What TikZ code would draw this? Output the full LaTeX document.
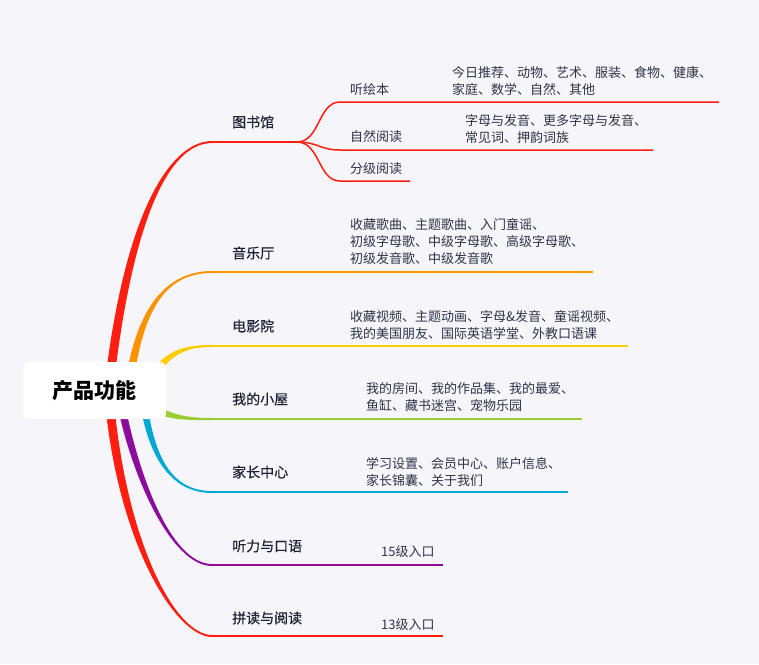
\documentclass[tikz,border=0pt]{standalone}
\usepackage{fontspec}
\setmainfont{Noto Sans CJK SC}
\newfontfamily\topicfont[FakeBold=0.4]{Noto Sans CJK SC}
\usetikzlibrary{backgrounds}

\definecolor{paper}{RGB}{245,245,250}
\definecolor{ink}{RGB}{28,34,50}
\definecolor{inkl}{RGB}{45,52,68}
\definecolor{redb}{RGB}{255,30,16}
\definecolor{orangeb}{RGB}{255,146,0}
\definecolor{yellowb}{RGB}{255,204,0}
\definecolor{greenb}{RGB}{154,204,51}
\definecolor{cyanb}{RGB}{0,168,214}
\definecolor{purpleb}{RGB}{140,12,158}

% tapered branch: colour, from, to, control 1, control 2, half width (x,y)
\newcommand\limb[7]{%
  \fill[#1] ([shift={(#6,#7)}]#2) .. controls ([shift={(#6,#7)}]#4) and ([yshift=-1pt]#5) .. ([yshift=-1pt]#3)
    -- ([yshift=1pt]#3) .. controls ([yshift=1pt]#5) and ([shift={({-(#6)},{-(#7)})}]#4) .. ([shift={({-(#6)},{-(#7)})}]#2) -- cycle;}

\tikzset{
  rootbox/.style={fill=white,rounded corners=6pt,minimum width=143pt,minimum height=57pt,inner sep=0pt,
    font=\fontsize{21}{24}\selectfont\bfseries,text=black},
  topic/.style={anchor=west,inner sep=0pt,text=ink,font=\fontsize{14}{17}\selectfont\topicfont},
  sub/.style={anchor=west,inner sep=0pt,text=inkl,font=\fontsize{13}{17}\selectfont},
  detail/.style={anchor=west,inner sep=0pt,text=inkl,align=left,font=\fontsize{13}{17}\selectfont},
  rule/.style={line width=2pt},
  twig/.style={line width=1.5pt,redb},
}

\begin{document}
\begin{tikzpicture}[x=1pt,y=-1pt]
  \useasboundingbox (0,0) rectangle (759,664);

  \node[rootbox] (root) at (94.5,390.5) {产品功能};

  % start and end of each branch
  \coordinate (s1) at ([xshift=14pt]root.center);  \coordinate (e1) at (212,142);
  \coordinate (s2) at ([xshift=34pt]root.center);  \coordinate (e2) at (212,272);
  \coordinate (s3) at ([shift={(56,-12)}]root.center); \coordinate (e3) at (212,346);
  \coordinate (s4) at ([shift={(56,15)}]root.center);  \coordinate (e4) at (212,419);
  \coordinate (s5) at ([shift={(48,5)}]root.center);   \coordinate (e5) at (212,492);
  \coordinate (s6) at ([xshift=24pt]root.center);  \coordinate (e6) at (212,565);
  \coordinate (s7) at ([xshift=14pt]root.center);  \coordinate (e7) at (212,636);

  % where the rules stop
  \coordinate (fork) at (297,142);
  \coordinate (r2) at (593,272);
  \coordinate (r3) at (628,346);
  \coordinate (r4) at (582,419);
  \coordinate (r5) at (568,492);
  \coordinate (r6) at (443,565);
  \coordinate (r7) at (443,636);
  \coordinate (t1) at (340,102); \coordinate (t1e) at (719,102);
  \coordinate (t2) at (340,150); \coordinate (t2e) at (653,150);
  \coordinate (t3) at (340,181); \coordinate (t3e) at (410,181);

  \begin{scope}[on background layer]
    \fill[paper] (0,0) rectangle (759,664);
    \limb{redb}{s1}{e1}{130,200}{175,142}{4.5}{0}
    \limb{orangeb}{s2}{e2}{138,310}{165,272}{4}{0}
    \limb{yellowb}{s3}{e3}{168,352}{185,346}{2.5}{2.5}
    \limb{greenb}{s4}{e4}{168,418}{188,419}{-2}{3}
    \limb{cyanb}{s5}{e5}{150,455}{170,492}{-3.5}{0}
    \limb{purpleb}{s6}{e6}{132,470}{170,565}{-4}{0}
    \limb{redb}{s7}{e7}{120,540}{175,636}{-4.5}{0}
  \end{scope}

  \draw[rule,redb] (e1) -- (fork);
  \foreach \n/\c in {2/orangeb,3/yellowb,4/greenb,5/cyanb,6/purpleb,7/redb}
    \draw[rule,\c] (e\n) -- (r\n);

  \draw[twig] (fork) .. controls (320,142) and (318,102) .. (t1) -- (t1e);
  \draw[twig] (fork) .. controls (318,142) and (320,150) .. (t2) -- (t2e);
  \draw[twig] (fork) .. controls (320,142) and (318,181) .. (t3) -- (t3e);

  % topics
  \node[topic] (lib) at (232,122) {图书馆};
  \node[topic] (music) at (232,253) {音乐厅};
  \node[topic] (movie) at (232,326) {电影院};
  \node[topic] (house) at (232,399) {我的小屋};
  \node[topic] (parent) at (232,472) {家长中心};
  \node[topic] (listen) at (232,546) {听力与口语};
  \node[topic] (read) at (232,618) {拼读与阅读};

  \node[sub] (pic) at (350,90) {听绘本};
  \node[sub] (nat) at (350,137) {自然阅读};
  \node[sub] (grade) at (350,169) {分级阅读};

  % details
  \node[detail] (picd) at (452,81.5) {今日推荐、动物、艺术、服装、食物、健康、\\家庭、数学、自然、其他};
  \node[detail] (natd) at (465,129.5) {字母与发音、更多字母与发音、\\常见词、押韵词族};
  \node[detail] (musicd) at (350,242) {收藏歌曲、主题歌曲、入门童谣、\\初级字母歌、中级字母歌、高级字母歌、\\初级发音歌、中级发音歌};
  \node[detail] (movied) at (350,325) {收藏视频、主题动画、字母\&发音、童谣视频、\\我的美国朋友、国际英语学堂、外教口语课};
  \node[detail] (housed) at (366,397.5) {我的房间、我的作品集、我的最爱、\\鱼缸、藏书迷宫、宠物乐园};
  \node[detail] (parentd) at (366,472) {学习设置、会员中心、账户信息、\\家长锦囊、关于我们};
  \node[detail] (listend) at (381,552) {15级入口};
  \node[detail] (readd) at (381,625) {13级入口};
\end{tikzpicture}
\end{document}
